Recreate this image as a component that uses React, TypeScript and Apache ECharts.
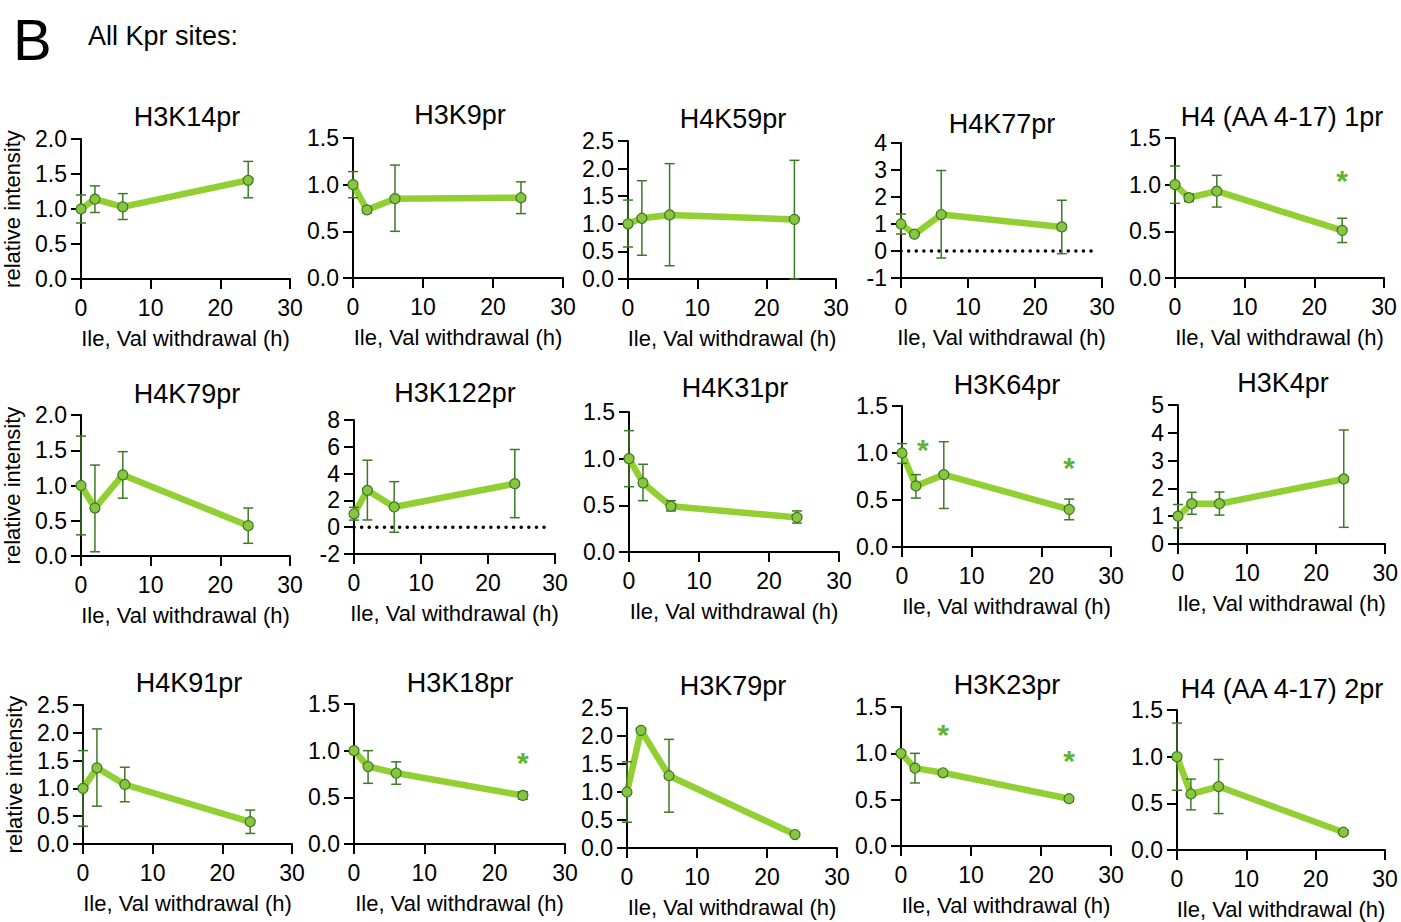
import React, { useEffect, useRef } from "react";
import * as echarts from "echarts";

const FONT = "'Liberation Sans', Arial, Helvetica, sans-serif";

const hours = [0, 2, 6, 24];
const titles = [
  "H3K14pr", "H3K9pr", "H4K59pr", "H4K77pr", "H4 (AA 4-17) 1pr",
  "H4K79pr", "H3K122pr", "H4K31pr", "H3K64pr", "H3K4pr",
  "H4K91pr", "H3K18pr", "H3K79pr", "H3K23pr", "H4 (AA 4-17) 2pr",
];
const means = [
  [1.0, 1.14, 1.03, 1.41],
  [1.0, 0.73, 0.85, 0.86],
  [1.0, 1.1, 1.16, 1.08],
  [1.0, 0.62, 1.35, 0.89],
  [1.0, 0.86, 0.93, 0.51],
  [1.0, 0.68, 1.15, 0.43],
  [1.0, 2.75, 1.51, 3.25],
  [1.0, 0.74, 0.49, 0.37],
  [1.0, 0.65, 0.77, 0.4],
  [1.0, 1.45, 1.45, 2.34],
  [1.0, 1.37, 1.07, 0.4],
  [1.0, 0.83, 0.76, 0.52],
  [1.0, 2.1, 1.29, 0.24],
  [1.0, 0.84, 0.79, 0.51],
  [1.0, 0.6, 0.68, 0.19],
];
const upper = [
  [1.2, 1.33, 1.22, 1.68],
  [1.14, 0.76, 1.21, 1.03],
  [1.43, 1.78, 2.09, 2.15],
  [1.37, 0.66, 2.98, 1.88],
  [1.2, 0.9, 1.1, 0.64],
  [1.7, 1.29, 1.48, 0.68],
  [1.48, 5.0, 3.4, 5.8],
  [1.3, 0.94, 0.55, 0.44],
  [1.1, 0.77, 1.12, 0.51],
  [1.42, 1.86, 1.87, 4.1],
  [1.68, 2.07, 1.38, 0.61],
  [1.02, 1.0, 0.88, 0.56],
  [1.54, 2.14, 1.94, 0.26],
  [1.02, 1.0, 0.81, 0.53],
  [1.36, 0.76, 0.97, 0.21],
];
const lower = [
  [0.8, 0.95, 0.85, 1.16],
  [0.86, 0.7, 0.5, 0.69],
  [0.58, 0.43, 0.24, 0.0],
  [0.63, 0.58, -0.26, -0.1],
  [0.8, 0.82, 0.76, 0.38],
  [0.3, 0.06, 0.82, 0.18],
  [0.53, 0.54, -0.38, 0.71],
  [0.7, 0.55, 0.44, 0.31],
  [0.89, 0.52, 0.41, 0.29],
  [0.58, 1.07, 1.04, 0.6],
  [0.32, 0.68, 0.76, 0.19],
  [0.98, 0.65, 0.64, 0.48],
  [0.46, 2.06, 0.64, 0.22],
  [0.98, 0.68, 0.77, 0.49],
  [0.64, 0.43, 0.39, 0.17],
];
const yMin = [0, 0, 0, -1, 0, 0, -2, 0, 0, 0, 0, 0, 0, 0, 0];
const yMax = [2, 1.5, 2.5, 4, 1.5, 2, 8, 1.5, 1.5, 5, 2.5, 1.5, 2.5, 1.5, 1.5];
const yStep = [0.5, 0.5, 0.5, 1, 0.5, 0.5, 2, 0.5, 0.5, 1, 0.5, 0.5, 0.5, 0.5, 0.5];
const xTicks = { min: 0, max: 30, step: 10 };
const significance: number[][][] = [
  [], [], [], [], [[24, 1.08]],
  [], [], [], [[3, 1.07], [24, 0.88]], [],
  [], [[24, 0.91]], [], [[6, 1.24], [24, 0.96]], [],
];
const zeroLine = [[0, 0], [29, 0]];
const zeroLinePanels = [3, 6];
const xName = "Ile, Val withdrawal (h)";
const yName = "relative intensity";

// layout: [left, top, right, bottom] of each plot area
const panelBox = [
  [80, 139, 290, 279], [353, 138, 563, 278], [628, 141, 836, 279], [901, 143, 1102, 278], [1175, 138, 1384, 278],
  [81, 415, 290, 556], [354, 420, 555, 554], [629, 412, 839, 552], [902, 406, 1111, 547], [1178, 405, 1387, 544],
  [83, 705, 292, 844], [354, 704, 565, 844], [627, 708, 837, 848], [901, 707, 1111, 846], [1177, 710, 1385, 850],
];
const titlePos = [
  [187, 117], [460, 115], [733, 119], [1002, 124], [1282, 117],
  [187, 394], [455, 393], [735, 388], [1007, 385], [1283, 383],
  [189, 683], [460, 683], [733, 686], [1007, 685], [1282, 689],
];

const LINE = "#92cf33";
const DOT = "#89c540";
const DOT_EDGE = "#3b7a1f";
const ERR = "#3c7a25";
const STAR = "#5cb531";

export default function App() {
  const ref = useRef<HTMLDivElement>(null);
  useEffect(() => {
    const chart = echarts.init(ref.current!, null, { renderer: "svg" });
    const grid: any[] = [];
    const xAxis: any[] = [];
    const yAxis: any[] = [];
    const series: any[] = [];
    const graphic: any[] = [
      { type: "text", left: 13, top: 10, style: { text: "B", font: `58px ${FONT}`, fill: "#000" } },
      { type: "text", left: 88, top: 22, style: { text: "All Kpr sites:", font: `27px ${FONT}`, fill: "#000" } },
    ];
    titles.forEach((t, i) => {
      const [l, tp, r, b] = panelBox[i];
      grid.push({ left: l, top: tp, width: r - l, height: b - tp });
      xAxis.push({
        type: "value", gridIndex: i, min: xTicks.min, max: xTicks.max, interval: xTicks.step,
        name: xName, nameLocation: "middle", nameGap: 48,
        nameTextStyle: { fontSize: 22, color: "#000", fontFamily: FONT },
        axisLine: { onZero: false, lineStyle: { color: "#000", width: 2 } },
        axisTick: { length: 10, lineStyle: { color: "#000", width: 2 } },
        axisLabel: { fontSize: 23, color: "#000", margin: 17, fontFamily: FONT },
        splitLine: { show: false },
      });
      const step = yStep[i];
      yAxis.push({
        type: "value", gridIndex: i, min: yMin[i], max: yMax[i], interval: step,
        name: i % 5 === 0 ? yName : "", nameLocation: "middle", nameGap: 58,
        nameTextStyle: { fontSize: 22, color: "#000", fontFamily: FONT },
        axisLine: { show: true, onZero: false, lineStyle: { color: "#000", width: 2 } },
        axisTick: { show: true, length: 10, lineStyle: { color: "#000", width: 2 } },
        axisLabel: {
          fontSize: 23, color: "#000", margin: 14, fontFamily: FONT,
          formatter: (v: number) => (step < 1 ? v.toFixed(1) : String(v)),
        },
        splitLine: { show: false },
      });
      graphic.push({
        type: "text", x: titlePos[i][0], y: titlePos[i][1],
        style: { text: t, font: `27px ${FONT}`, fill: "#000", align: "center", verticalAlign: "middle" },
      });
      if (zeroLinePanels.includes(i)) {
        series.push({
          type: "line", xAxisIndex: i, yAxisIndex: i, data: zeroLine, showSymbol: false, silent: true,
          lineStyle: { color: "#000", width: 3.5, type: [0.1, 7.5], cap: "round" }, z: 1,
        });
      }
      series.push({
        type: "line", xAxisIndex: i, yAxisIndex: i, showSymbol: false,
        data: hours.map((h, j) => [h, means[i][j]]),
        lineStyle: { color: LINE, width: 6.5, join: "round" }, z: 2,
      });
      series.push({
        type: "custom", xAxisIndex: i, yAxisIndex: i, z: 3,
        data: hours.map((h, j) => [h, lower[i][j], upper[i][j]]),
        encode: { x: 0, y: [1, 2] },
        renderItem: (p: any, api: any) => {
          const x = api.value(0);
          const a = api.coord([x, api.value(1)]);
          const c = api.coord([x, api.value(2)]);
          const w = 5;
          const style = { stroke: ERR, lineWidth: 1.5 };
          return {
            type: "group",
            children: [
              { type: "line", shape: { x1: a[0], y1: a[1], x2: c[0], y2: c[1] }, style },
              { type: "line", shape: { x1: a[0] - w, y1: a[1], x2: a[0] + w, y2: a[1] }, style },
              { type: "line", shape: { x1: c[0] - w, y1: c[1], x2: c[0] + w, y2: c[1] }, style },
            ],
          };
        },
      });
      series.push({
        type: "scatter", xAxisIndex: i, yAxisIndex: i, z: 4, symbol: "circle", symbolSize: 10,
        data: hours.map((h, j) => [h, means[i][j]]),
        itemStyle: { color: DOT, borderColor: DOT_EDGE, borderWidth: 1.2, opacity: 1 },
      });
      if (significance[i].length) {
        series.push({
          type: "custom", xAxisIndex: i, yAxisIndex: i, z: 5,
          data: significance[i], encode: { x: 0, y: 1 },
          renderItem: (p: any, api: any) => {
            const pt = api.coord([api.value(0), api.value(1)]);
            return {
              type: "text", x: pt[0], y: pt[1] + 3,
              style: { text: "*", font: `bold 30px ${FONT}`, fill: STAR, align: "center", verticalAlign: "middle" },
            };
          },
        });
      }
    });
    chart.setOption({ animation: false, backgroundColor: "#fff", grid, xAxis, yAxis, series, graphic });
    return () => chart.dispose();
  }, []);
  return <div ref={ref} style={{ position: "absolute", left: 0, top: 0, width: 1401, height: 922 }} />;
}
